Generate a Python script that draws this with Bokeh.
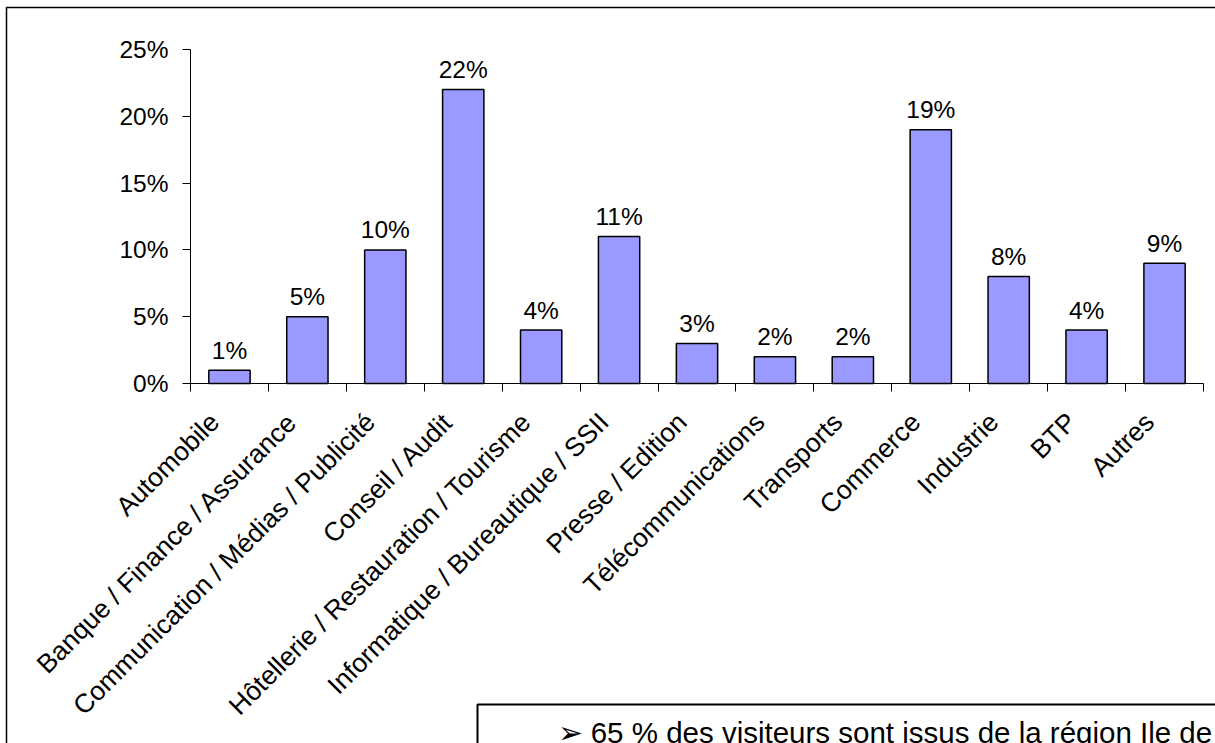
import math
from bokeh.plotting import figure
from bokeh.models import (Range1d, FixedTicker, NumeralTickFormatter, LinearAxis,
                          BoxAnnotation, Label, ColumnDataSource)
from bokeh.core.properties import value
from bokeh.embed import file_html
from bokeh.resources import INLINE

# ---- data ----
categories = ["Automobile", "Banque / Finance / Assurance", "Communication / Médias / Publicité",
              "Conseil / Audit", "Hôtellerie / Restauration / Tourisme",
              "Informatique / Bureautique / SSII", "Presse / Edition", "Télécommunications",
              "Transports", "Commerce", "Industrie", "BTP", "Autres"]
shares = [0.01, 0.05, 0.10, 0.22, 0.04, 0.11, 0.03, 0.02, 0.02, 0.19, 0.08, 0.04, 0.09]
y_ticks = [0.0, 0.05, 0.10, 0.15, 0.20, 0.25]
note_text = "\u27a2 65 % des visiteurs sont issus de la région Ile de"

# ---- layout (pixels) ----
FONT = "Liberation Sans"
W, H = 1215, 743
PLOT_L, PLOT_R, PLOT_T, PLOT_B = 190, 1203, 49, 383
Y_MAX = 0.25

n = len(categories)
centers = [i + 0.5 for i in range(n)]
bounds = list(range(n + 1))
labels = [f"{round(v * 100)}%" for v in shares]
zeros = [0.0] * n

# frame covers the whole canvas; ranges chosen so the chart area lands on PLOT_*
px_x = (PLOT_R - PLOT_L) / n
px_y = (PLOT_B - PLOT_T) / Y_MAX
x_range = Range1d(-PLOT_L / px_x, n + (W - PLOT_R) / px_x)
y_range = Range1d(-(H - PLOT_B) / px_y, Y_MAX + PLOT_T / px_y)

p = figure(width=W, height=H, output_backend="svg", toolbar_location=None,
           x_range=x_range, y_range=y_range,
           x_axis_type=None, y_axis_type=None,
           min_border=0, background_fill_color="white", border_fill_color="white")
p.outline_line_color = None
p.xgrid.visible = False
p.ygrid.visible = False

# y axis
yax = LinearAxis(ticker=FixedTicker(ticks=y_ticks, minor_ticks=[]),
                 formatter=NumeralTickFormatter(format="0%"),
                 fixed_location=0, bounds=(0, Y_MAX))
yax.axis_line_color = "black"
yax.major_tick_line_color = "black"
yax.major_tick_out = 8
yax.major_tick_in = 0
yax.minor_tick_line_color = None
yax.major_label_text_font = FONT
yax.major_label_text_font_size = "24.5px"
yax.major_label_text_color = "black"
yax.major_label_standoff = 14
p.add_layout(yax, "left")

# x axis: ticks at category boundaries (labels drawn below as rotated text)
xax = LinearAxis(ticker=FixedTicker(ticks=[], minor_ticks=bounds),
                 fixed_location=0, bounds=(0, n))
xax.axis_line_color = "black"
xax.major_tick_line_color = None
xax.minor_tick_line_color = "black"
xax.minor_tick_out = 8
xax.minor_tick_in = 0
xax.major_label_text_font_size = "0px"
p.add_layout(xax, "below")

src = ColumnDataSource(dict(x=centers, top=shares, label=labels, zero=zeros, cat=categories))
p.vbar(x="x", top="top", width=0.53, bottom=0, source=src,
       fill_color="#9999FF", line_color="black", line_width=1.5)
p.text(x="x", y="top", text="label", source=src, text_align="center",
       text_baseline="alphabetic", y_offset=-20,
       text_font=value(FONT), text_font_size="24.5px", text_color="black")
# rotated category labels
p.text(x="x", y="zero", text="cat", source=src, angle=math.pi / 4,
       text_align="right", text_baseline="alphabetic", x_offset=-15, y_offset=34,
       text_font=value(FONT), text_font_size="26.5px", text_color="black")

# outer frame
p.add_layout(BoxAnnotation(left=6, right=3000, top=7, bottom=3000,
                           left_units="canvas", right_units="canvas",
                           top_units="canvas", bottom_units="canvas",
                           fill_color=None, fill_alpha=0,
                           line_color="black", line_alpha=1, line_width=1.5))
# note box
p.add_layout(BoxAnnotation(left=477, right=3000, top=704, bottom=3000,
                           left_units="canvas", right_units="canvas",
                           top_units="canvas", bottom_units="canvas",
                           fill_color="white", fill_alpha=1,
                           line_color="black", line_alpha=1, line_width=2))
p.add_layout(Label(x=557, y=732, x_units="canvas", y_units="canvas", text=note_text,
                   text_font=FONT, text_font_size="29.5px", text_color="black",
                   text_baseline="alphabetic", text_align="left"))

open("out.html", "w").write(file_html(p, INLINE))
